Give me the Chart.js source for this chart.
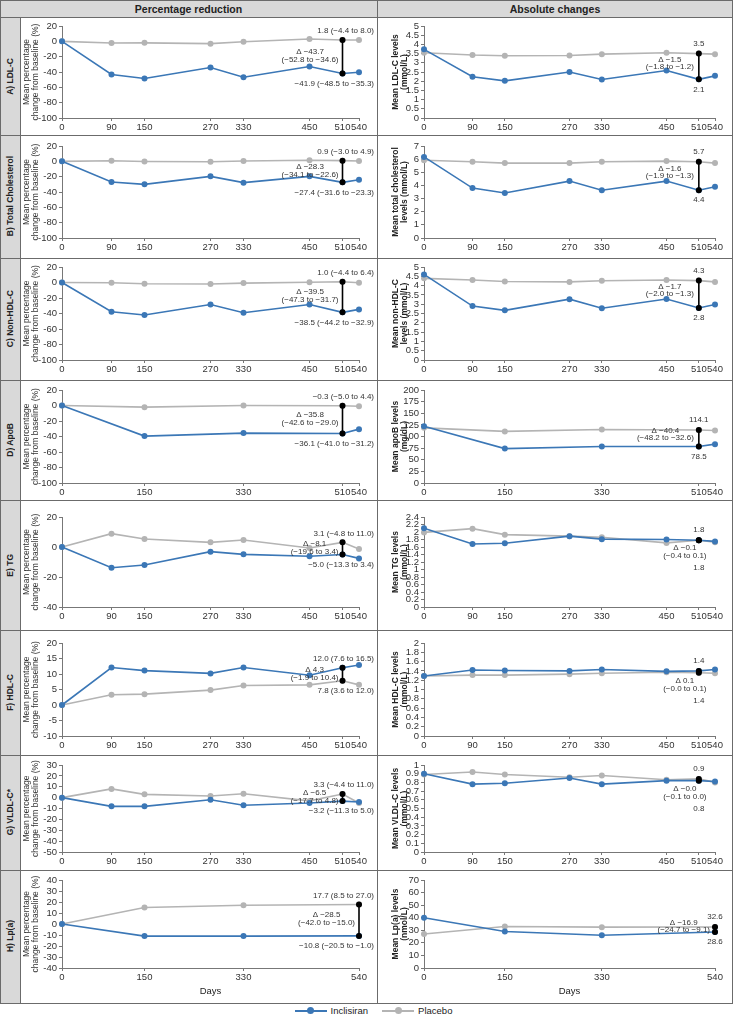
<!DOCTYPE html>
<html>
<head>
<meta charset="utf-8">
<title>Inclisiran vs placebo – lipid changes</title>
<script src="https://cdn.jsdelivr.net/npm/chart.js@4.4.1/dist/chart.umd.min.js"></script>
<style>
  body { margin: 0; background: #fff; font-family: "Liberation Sans", Arial, sans-serif; }
  #fig { position: relative; width: 733px; height: 1020px; overflow: hidden; }
  .fill { position: absolute; background: #d9d9d9; }
  .hl, .vl { position: absolute; background: #6b6b6b; }
  .hl { height: 1px; }
  .vl { width: 1px; }
  .head { position: absolute; top: 0; height: 17px; line-height: 18px; text-align: center;
          font-weight: bold; font-size: 10.5px; color: #222; }
  .rowlab { position: absolute; left: 0; width: 20px; display: flex; align-items: center; justify-content: center; }
  .rowlab span { writing-mode: vertical-rl; transform: rotate(180deg); font-weight: bold;
                 font-size: 8.5px; color: #222; white-space: nowrap; }
  canvas { position: absolute; }
  #legend { position: absolute; left: 0; width: 733px; top: 1005px; text-align: center; font-size: 9.5px; color: #222; }
  .key { display: inline-block; position: relative; width: 32px; height: 2px; vertical-align: middle; margin: 0 4px 0 14px; }
  .key::after { content: ''; position: absolute; left: 12.5px; top: -3px; width: 7px; height: 7px; border-radius: 50%; background: inherit; }
</style>
</head>
<body>
<div id="fig">
  <div id="legend"><span class="key" style="background:#3b77b6"></span>Inclisiran<span class="key" style="background:#b4b4b4"></span>Placebo</div>
</div>
<script>
// ---- data ----
const days = [0, 90, 150, 270, 330, 450, 510, 540];
const daysApo = [0, 150, 330, 510, 540];
const daysLpa = [0, 150, 330, 540];

const xTicksFull = [0, 90, 150, 270, 330, 450, 510, 540];
const xTicksApo = [0, 150, 330, 510, 540];
const xTicksLpa = [0, 150, 330, 540];

// A) LDL-C
const ldlPctInc = [0, -43.3, -48.5, -34.2, -46.8, -32.9, -41.9, -40.3];
const ldlPctPbo = [0, -2.2, -2.0, -3.0, -0.5, 3.0, 1.8, 1.7];
const ldlAbsInc = [3.73, 2.24, 2.02, 2.5, 2.09, 2.58, 2.1, 2.29];
const ldlAbsPbo = [3.55, 3.42, 3.38, 3.4, 3.47, 3.55, 3.5, 3.47];
const ldlPctNotes = ['1.8 (−4.4 to 8.0)', 'Δ −43.7', '(−52.8 to −34.6)', '−41.9 (−48.5 to −35.3)'];
const ldlAbsNotes = ['3.5', 'Δ −1.5', '(−1.8 to −1.2)', '2.1'];

// B) Total cholesterol
const tcPctInc = [0, -27, -30, -19.6, -27.8, -19.6, -27.4, -24];
const tcPctPbo = [0, 0.8, -0.2, -0.5, 0.5, 1.5, 0.9, 0.5];
const tcAbsInc = [6.17, 3.8, 3.43, 4.33, 3.63, 4.33, 3.63, 3.9];
const tcAbsPbo = [5.92, 5.8, 5.7, 5.7, 5.8, 5.85, 5.8, 5.7];
const tcPctNotes = ['0.9 (−3.0 to 4.9)', 'Δ −28.3', '(−34.1 to −22.6)', '−27.4 (−31.6 to −23.3)'];
const tcAbsNotes = ['5.7', 'Δ −1.6', '(−1.9 to −1.3)', '4.4'];

// C) Non-HDL-C
const nhdlPctInc = [0, -37.7, -42, -28.4, -39, -28.4, -38.5, -34.7];
const nhdlPctPbo = [0, -0.4, -1.7, -2, -0.8, 0.4, 1.0, -0.4];
const nhdlAbsInc = [4.6, 2.9, 2.67, 3.27, 2.78, 3.28, 2.8, 2.98];
const nhdlAbsPbo = [4.39, 4.3, 4.22, 4.2, 4.26, 4.3, 4.27, 4.2];
const nhdlPctNotes = ['1.0 (−4.4 to 6.4)', 'Δ −39.5', '(−47.3 to −31.7)', '−38.5 (−44.2 to −32.9)'];
const nhdlAbsNotes = ['4.3', 'Δ −1.7', '(−2.0 to −1.3)', '2.8'];

// D) ApoB
const apoPctInc = [0, -39.5, -35.6, -36.1, -30.5];
const apoPctPbo = [0, -2.1, 0, -0.3, -0.9];
const apoAbsInc = [122, 74, 78.6, 78.5, 83.6];
const apoAbsPbo = [118.6, 111, 115, 114.1, 113];
const apoPctNotes = ['−0.3 (−5.0 to 4.4)', 'Δ −35.8', '(−42.6 to −29.0)', '−36.1 (−41.0 to −31.2)'];
const apoAbsNotes = ['114.1', 'Δ −40.4', '(−48.2 to −32.6)', '78.5'];

// E) TG
const tgPctInc = [0, -13.8, -12, -3.1, -4.9, -6.2, -5.0, -7.6];
const tgPctPbo = [0, 8.9, 5.3, 3.1, 4.7, -0.7, 3.1, -1.3];
const tgAbsInc = [2.1, 1.68, 1.7, 1.89, 1.81, 1.8, 1.78, 1.75];
const tgAbsPbo = [1.99, 2.09, 1.93, 1.89, 1.86, 1.71, 1.78, 1.73];
const tgPctNotes = ['3.1 (−4.8 to 11.0)', 'Δ −8.1', '(−19.6 to 3.4)', '−5.0 (−13.3 to 3.4)'];
const tgAbsNotes = ['1.8', 'Δ −0.1', '(−0.4 to 0.1)', '1.8'];

// F) HDL-C
const hdlPctInc = [0, 12.1, 11.1, 10.2, 12.1, 9.6, 12.0, 12.9];
const hdlPctPbo = [0, 3.3, 3.5, 4.8, 6.3, 6.5, 7.8, 6.5];
const hdlAbsInc = [1.29, 1.42, 1.41, 1.4, 1.43, 1.39, 1.4, 1.43];
const hdlAbsPbo = [1.29, 1.31, 1.31, 1.33, 1.35, 1.37, 1.36, 1.35];
const hdlPctNotes = ['12.0 (7.6 to 16.5)', 'Δ 4.3', '(−1.9 to 10.4)', '7.8 (3.6 to 12.0)'];
const hdlAbsNotes = ['1.4', 'Δ 0.1', '(−0.0 to 0.1)', '1.4'];

// G) VLDL-C
const vldlPctInc = [0, -8, -8, -2, -7, -5, -3.2, -4];
const vldlPctPbo = [0, 8, 3, 1.5, 3.5, -3, 3.3, -5];
const vldlAbsInc = [0.9, 0.78, 0.79, 0.85, 0.78, 0.82, 0.82, 0.81];
const vldlAbsPbo = [0.89, 0.92, 0.89, 0.86, 0.88, 0.83, 0.84, 0.8];
const vldlPctNotes = ['3.3 (−4.4 to 11.0)', 'Δ −6.5', '(−17.7 to 4.8)', '−3.2 (−11.3 to 5.0)'];
const vldlAbsNotes = ['0.9', 'Δ −0.0', '(−0.1 to 0.0)', '0.8'];

// H) Lp(a)
const lpaPctInc = [0, -11, -11, -10.8];
const lpaPctPbo = [0, 15, 17, 17.7];
const lpaAbsInc = [40, 29, 26, 28.6];
const lpaAbsPbo = [27, 33, 32.5, 32.6];
const lpaPctNotes = ['17.7 (8.5 to 27.0)', 'Δ −28.5', '(−42.0 to −15.0)', '−10.8 (−20.5 to −1.0)'];
const lpaAbsNotes = ['32.6', 'Δ −16.9', '(−24.7 to −9.1)', '28.6'];

// ---- look ----
const BLUE = '#3b77b6', GRAY = '#b4b4b4', AXIS = '#777';
const FONT = '"Liberation Sans", Arial, sans-serif';
Chart.defaults.font.family = FONT;
Chart.defaults.font.size = 9.5;
Chart.defaults.color = '#333';

const LABEL_W = 20, MID_X = 377, FIG_W = 733;
const PCT_TITLE = ['Mean percentage', 'change from baseline (%)'];

const rows = [
  { label: 'A) LDL-C', geo: [17, 135, 26, 118], days: days, ticks: xTicksFull, bar: 510,
    L: { inc: ldlPctInc, pbo: ldlPctPbo, min: -100, max: 20, step: 20, notes: ldlPctNotes, mode: 'pct' },
    R: { inc: ldlAbsInc, pbo: ldlAbsPbo, min: 0, max: 5, step: 0.5, notes: ldlAbsNotes, mode: 'abs', title: ['Mean LDL-C levels', '(mmol/L)'] } },
  { label: 'B) Total Cholesterol', geo: [135, 258, 146, 238], days: days, ticks: xTicksFull, bar: 510,
    L: { inc: tcPctInc, pbo: tcPctPbo, min: -100, max: 20, step: 20, notes: tcPctNotes, mode: 'pct' },
    R: { inc: tcAbsInc, pbo: tcAbsPbo, min: 0, max: 7, step: 1, notes: tcAbsNotes, mode: 'abs', title: ['Mean total cholesterol', 'levels (mmol/L)'] } },
  { label: 'C) Non-HDL-C', geo: [258, 380, 267, 360], days: days, ticks: xTicksFull, bar: 510,
    L: { inc: nhdlPctInc, pbo: nhdlPctPbo, min: -100, max: 20, step: 20, notes: nhdlPctNotes, mode: 'pct' },
    R: { inc: nhdlAbsInc, pbo: nhdlAbsPbo, min: 0, max: 5, step: 0.5, notes: nhdlAbsNotes, mode: 'abs', title: ['Mean non-HDL-C', 'levels (mmol/L)'] } },
  { label: 'D) ApoB', geo: [380, 500, 390, 483], days: daysApo, ticks: xTicksApo, bar: 510,
    L: { inc: apoPctInc, pbo: apoPctPbo, min: -100, max: 20, step: 20, notes: apoPctNotes, mode: 'pct' },
    R: { inc: apoAbsInc, pbo: apoAbsPbo, min: 0, max: 200, step: 25, notes: apoAbsNotes, mode: 'abs', title: ['Mean apoB levels', '(mg/dL)'] } },
  { label: 'E) TG', geo: [500, 630, 517, 607], days: days, ticks: xTicksFull, bar: 510,
    L: { inc: tgPctInc, pbo: tgPctPbo, min: -40, max: 20, step: 20, notes: tgPctNotes, mode: 'pct' },
    R: { inc: tgAbsInc, pbo: tgAbsPbo, min: 0, max: 2.4, step: 0.2, notes: tgAbsNotes, mode: 'below', title: ['Mean TG levels', '(mmol/L)'] } },
  { label: 'F) HDL-C', geo: [630, 755, 643, 736], days: days, ticks: xTicksFull, bar: 510,
    L: { inc: hdlPctInc, pbo: hdlPctPbo, min: -10, max: 20, step: 5, notes: hdlPctNotes, mode: 'pct' },
    R: { inc: hdlAbsInc, pbo: hdlAbsPbo, min: 0, max: 2, step: 0.2, notes: hdlAbsNotes, mode: 'below', title: ['Mean HDL-C levels', '(mmol/L)'] } },
  { label: 'G) VLDL-C*', geo: [755, 870, 765, 852], days: days, ticks: xTicksFull, bar: 510,
    L: { inc: vldlPctInc, pbo: vldlPctPbo, min: -50, max: 30, step: 10, notes: vldlPctNotes, mode: 'pct' },
    R: { inc: vldlAbsInc, pbo: vldlAbsPbo, min: 0, max: 1, step: 0.1, notes: vldlAbsNotes, mode: 'below', title: ['Mean VLDL-C levels', '(mmol/L)'] } },
  { label: 'H) Lp(a)', geo: [870, 1003, 880, 968], days: daysLpa, ticks: xTicksLpa, bar: 540, daysTitle: true,
    L: { inc: lpaPctInc, pbo: lpaPctPbo, min: -40, max: 40, step: 10, notes: lpaPctNotes, mode: 'pct' },
    R: { inc: lpaAbsInc, pbo: lpaAbsPbo, min: 0, max: 70, step: 10, notes: lpaAbsNotes, mode: 'abs', title: ['Mean Lp(a) levels', '(nmol/L)'] } }
];

// text next to the black connector at the comparison day
const notesPlugin = {
  id: 'notes',
  afterDatasetsDraw(chart, args, o) {
    if (!o || !o.text) return;
    const ctx = chart.ctx, xs = chart.scales.x, ys = chart.scales.y;
    const px = xs.getPixelForValue(o.day);
    const pa = ys.getPixelForValue(o.a), pb = ys.getPixelForValue(o.b);
    const top = Math.min(pa, pb), bot = Math.max(pa, pb), mid = (top + bot) / 2;
    const [t0, d1, d2, t1] = o.text;
    ctx.save();
    ctx.font = '8px ' + FONT;
    ctx.fillStyle = '#333';
    ctx.textBaseline = 'middle';
    const w2 = Math.max(ctx.measureText(d1).width, ctx.measureText(d2).width);
    let dc, y1, y2;
    if (o.mode === 'pct') {
      ctx.textAlign = 'right';
      ctx.fillText(t0, chart.width - 3, top - 9);
      ctx.fillText(t1, chart.width - 3, bot + 10);
      dc = px - 4 - w2 / 2; y1 = mid - 5; y2 = mid + 3;
    } else if (o.mode === 'abs') {
      ctx.textAlign = 'center';
      ctx.fillText(t0, px, top - 10);
      ctx.fillText(t1, px, bot + 10);
      dc = px - 5 - w2 / 2; y1 = mid - 7; y2 = mid;
    } else {
      ctx.textAlign = 'center';
      ctx.fillText(t0, px, top - 10);
      ctx.fillText(t1, px, bot + 28);
      dc = px - 14; y1 = bot + 8; y2 = bot + 16;
    }
    ctx.textAlign = 'center';
    ctx.fillText(d1, dc, y1);
    ctx.fillText(d2, dc, y2);
    ctx.restore();
  }
};

const fig = document.getElementById('fig');
function el(cls, css, html) {
  const d = document.createElement('div');
  d.className = cls;
  Object.assign(d.style, css);
  if (html) d.innerHTML = html;
  fig.appendChild(d);
  return d;
}

function pts(xs, ys) { return xs.map((x, i) => ({ x: x, y: ys[i] })); }
const plainNum = v => String(Number(v.toFixed(2)));

function drawPanel(row, side) {
  const spec = row[side];
  const [top, bottom, plotTop, plotBottom] = row.geo;
  const left = side === 'L' ? LABEL_W + 1 : MID_X + 1;
  const w = side === 'L' ? MID_X - LABEL_W - 1 : FIG_W - MID_X - 2;
  const h = bottom - top - 1;
  const yW = side === 'L' ? 41 : 46;
  const padR = side === 'L' ? 18 : 17;
  const xH = bottom - plotBottom;

  const cv = document.createElement('canvas');
  cv.width = w; cv.height = h;
  cv.style.left = left + 'px'; cv.style.top = (top + 1) + 'px';
  fig.appendChild(cv);

  const i = row.days.indexOf(row.bar);
  const a = spec.inc[i], b = spec.pbo[i];

  const line = (data, color) => ({
    data: data, borderColor: color, backgroundColor: color, borderWidth: 1.6,
    pointRadius: 3, pointBorderWidth: 0, tension: 0, clip: false
  });

  new Chart(cv, {
    type: 'line',
    data: {
      datasets: [
        line([{ x: row.bar, y: a }, { x: row.bar, y: b }], '#000'),
        line(pts(row.days, spec.inc), BLUE),
        line(pts(row.days, spec.pbo), GRAY)
      ]
    },
    options: {
      responsive: false, animation: false, events: [],
      layout: { padding: { top: plotTop - top - 1, right: padR, left: 0, bottom: 0 } },
      plugins: {
        legend: { display: false }, tooltip: { enabled: false },
        notes: { day: row.bar, a: a, b: b, text: spec.notes, mode: spec.mode }
      },
      scales: {
        x: {
          type: 'linear', min: 0, max: 540,
          afterBuildTicks: s => { s.ticks = row.ticks.map(v => ({ value: v })); },
          afterFit: s => { s.height = xH; },
          grid: { drawOnChartArea: false, tickLength: 3, color: AXIS },
          border: { color: AXIS },
          ticks: { autoSkip: false, maxRotation: 0, padding: 1, color: '#333' },
          title: { display: !!row.daysTitle, text: 'Days', font: { size: 9.5 }, color: '#222', padding: { top: 0, bottom: 6 } }
        },
        y: {
          min: spec.min, max: spec.max,
          ticks: { stepSize: spec.step, autoSkip: false, padding: 2, color: '#333', callback: plainNum },
          afterFit: s => { s.width = yW; },
          grid: { drawOnChartArea: false, tickLength: 3, color: AXIS },
          border: { color: AXIS },
          title: side === 'L'
            ? { display: true, text: PCT_TITLE, font: { size: 8.5, lineHeight: 1.1 }, color: '#333', padding: { top: 1, bottom: 0 } }
            : { display: true, text: spec.title, font: { size: 8.5, weight: 'bold', lineHeight: 1.1 }, color: '#222', padding: { top: 13, bottom: 0 } }
        }
      }
    },
    plugins: [notesPlugin]
  });
}

// frame fills
el('fill', { left: '0px', top: '0px', width: FIG_W + 'px', height: '17px' });
el('fill', { left: '0px', top: '17px', width: LABEL_W + 'px', height: (1003 - 17) + 'px' });
el('head', { left: '0px', width: MID_X + 'px' }, 'Percentage reduction');
el('head', { left: MID_X + 'px', width: (FIG_W - MID_X) + 'px' }, 'Absolute changes');

rows.forEach(row => {
  const [top, bottom] = row.geo;
  el('rowlab', { top: top + 'px', height: (bottom - top) + 'px' }, '<span>' + row.label + '</span>');
  drawPanel(row, 'L');
  drawPanel(row, 'R');
});

// table rules
[0, 17].concat(rows.map(r => r.geo[1])).forEach(y => el('hl', { left: '0px', top: y + 'px', width: FIG_W + 'px' }));
el('vl', { left: '0px', top: '0px', height: '1004px' });
el('vl', { left: LABEL_W + 'px', top: '17px', height: '987px' });
el('vl', { left: MID_X + 'px', top: '0px', height: '1004px' });
el('vl', { left: (FIG_W - 1) + 'px', top: '0px', height: '1004px' });
</script>
</body>
</html>
